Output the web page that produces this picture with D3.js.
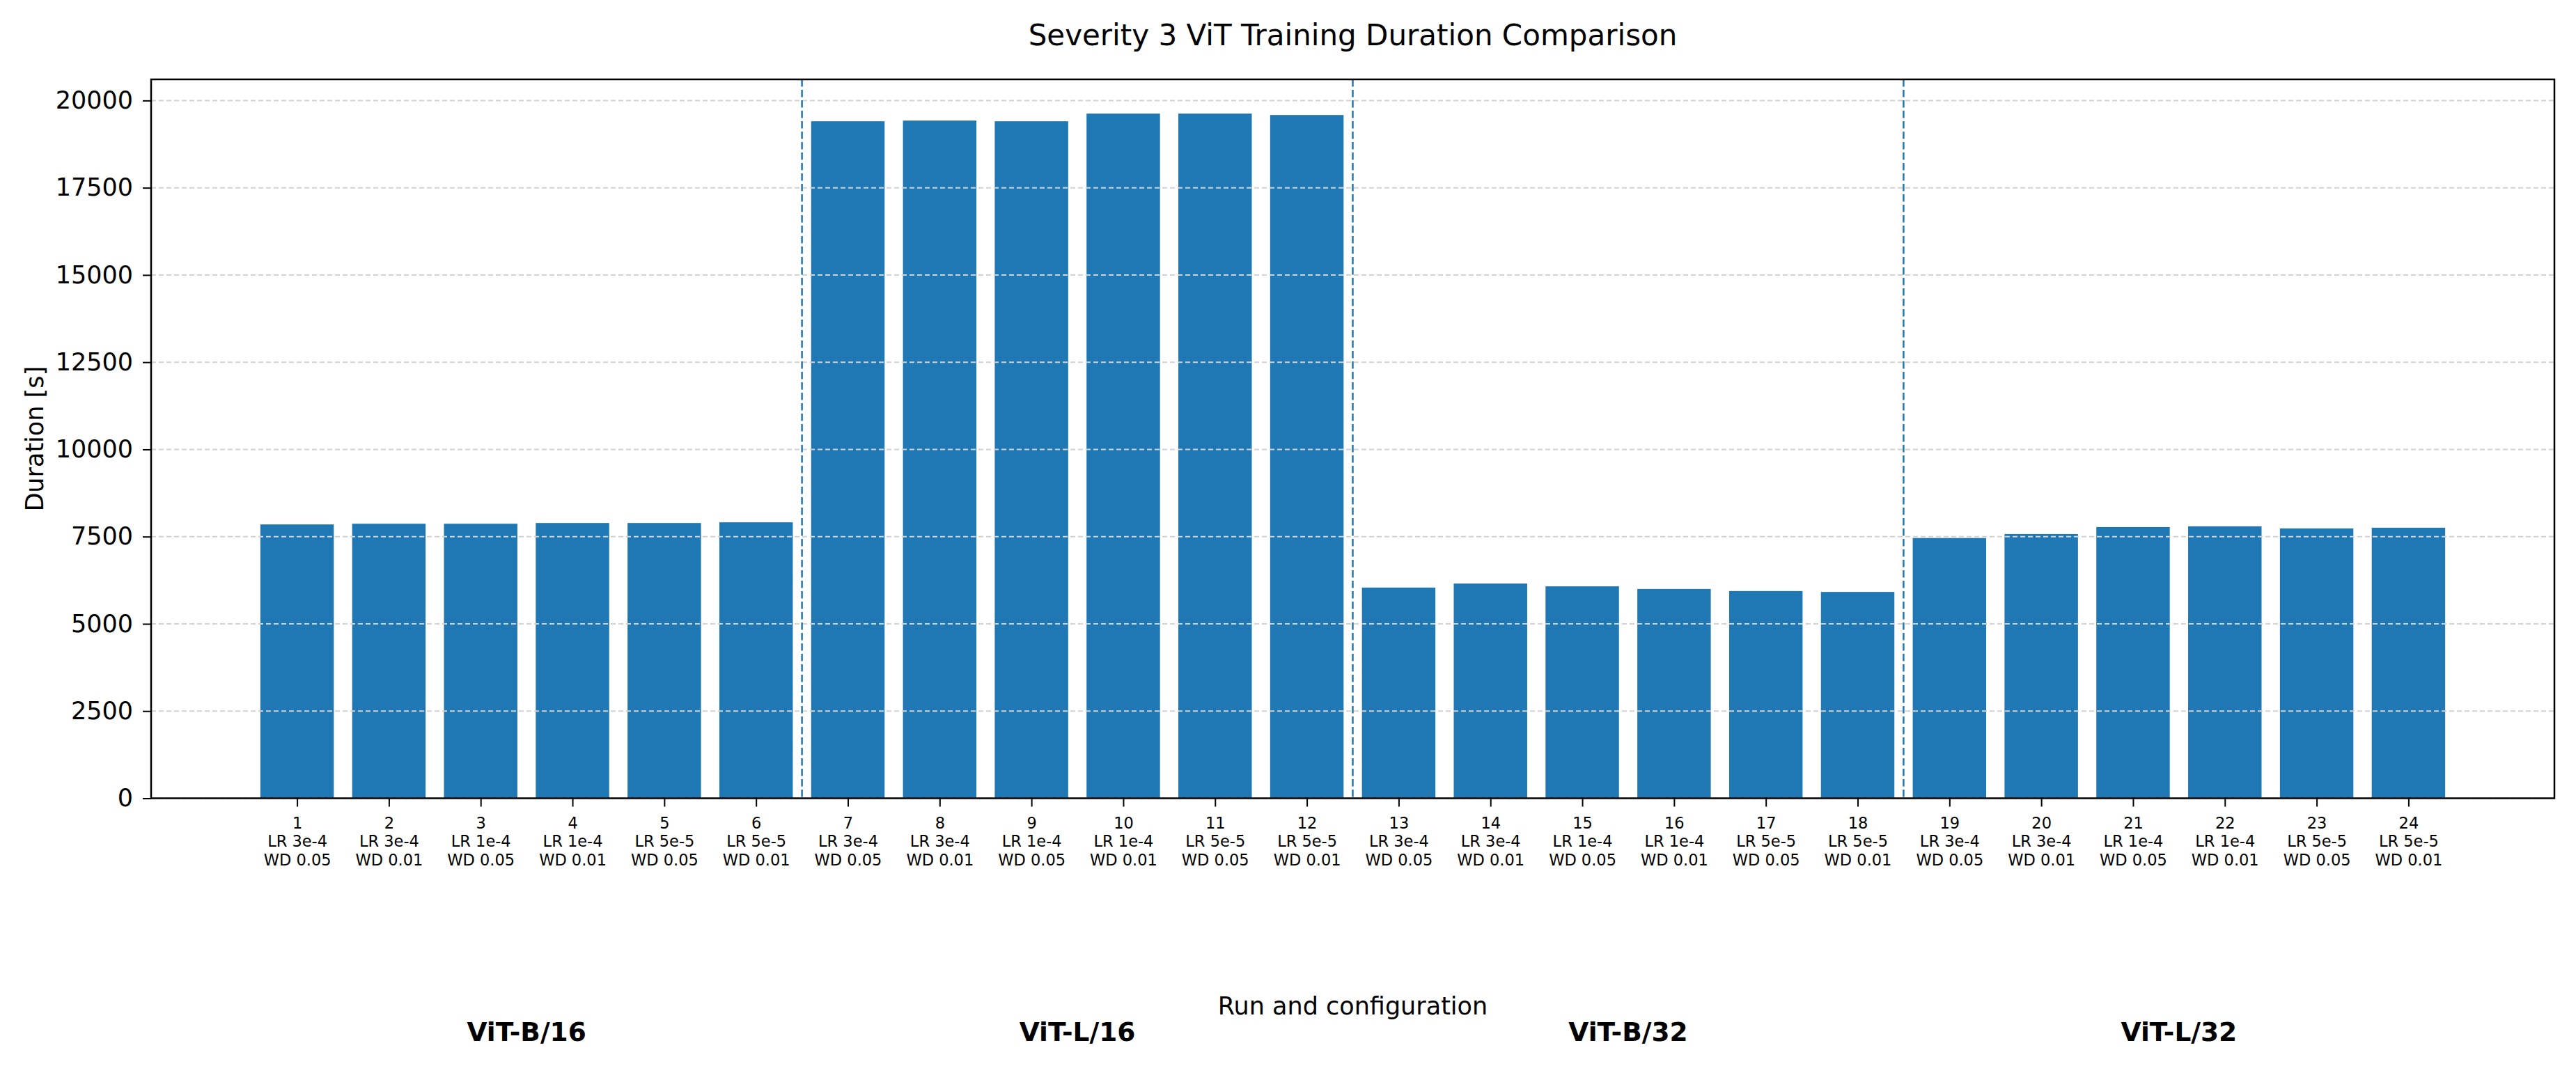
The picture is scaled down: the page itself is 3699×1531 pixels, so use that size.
<!DOCTYPE html>
<html>
<head>
<meta charset="utf-8">
<script src="https://cdn.jsdelivr.net/npm/d3@7"></script>
<style>
  body { margin: 0; background: #fff; }
  text { font-family: "DejaVu Sans", sans-serif; fill: #000; }
</style>
</head>
<body>
<svg id="chart"></svg>
<script>
// chart data
var models = ["ViT-B/16", "ViT-L/16", "ViT-B/32", "ViT-L/32"];
var lrs = ["LR 3e-4", "LR 3e-4", "LR 1e-4", "LR 1e-4", "LR 5e-5", "LR 5e-5"];
var wds = ["WD 0.05", "WD 0.01", "WD 0.05", "WD 0.01", "WD 0.05", "WD 0.01"];
var runs = [1, 2, 3, 4, 5, 6, 7, 8, 9, 10, 11, 12, 13, 14, 15, 16, 17, 18, 19, 20, 21, 22, 23, 24];
var durations = [7850, 7870, 7870, 7890, 7890, 7910,
                 19405, 19425, 19405, 19625, 19625, 19585,
                 6040, 6155, 6075, 6000, 5940, 5915,
                 7460, 7575, 7775, 7795, 7735, 7755];
var yTicks = [0, 2500, 5000, 7500, 10000, 12500, 15000, 17500, 20000];
var groupEdges = [6.5, 12.5, 18.5];

var W = 3699, H = 1531;
var margin = { top: 114, right: W - 3668, bottom: H - 1146.5, left: 217 };
var width = W - margin.left - margin.right,
    height = H - margin.top - margin.bottom;

var svg = d3.select("#chart").attr("width", W).attr("height", H);
var g = svg.append("g").attr("transform", "translate(" + margin.left + "," + margin.top + ")");

var x = d3.scaleLinear().domain([-0.59, 25.59]).range([0, width]);
var y = d3.scaleLinear().domain([0, d3.max(durations) * 1.05]).range([height, 0]);
var bw = x(0.8) - x(0);

// bars
g.selectAll("rect.bar")
  .data(runs).enter().append("rect")
  .attr("class", "bar")
  .attr("x", function(d) { return x(d) - bw / 2; })
  .attr("width", bw)
  .attr("y", function(d, i) { return y(durations[i]); })
  .attr("height", function(d, i) { return height - y(durations[i]); })
  .attr("fill", "#1f77b4");

// horizontal grid, above the bars
g.selectAll("line.grid")
  .data(yTicks).enter().append("line")
  .attr("x1", 0).attr("x2", width)
  .attr("y1", function(d) { return y(d); })
  .attr("y2", function(d) { return y(d); })
  .attr("stroke", "#d2d2d2")
  .attr("stroke-width", 2)
  .attr("stroke-dasharray", "7,4");

// group separators
g.selectAll("line.sep")
  .data(groupEdges).enter().append("line")
  .attr("x1", function(d) { return x(d); })
  .attr("x2", function(d) { return x(d); })
  .attr("y1", 0).attr("y2", height)
  .attr("stroke", "#1f77b4")
  .attr("stroke-width", 2.5)
  .attr("stroke-dasharray", "10.5,4.5");

// y axis
var yAxis = g.append("g")
  .call(d3.axisLeft(y).tickValues(yTicks).tickSize(12).tickPadding(14).tickFormat(d3.format("d")));
yAxis.select(".domain").remove();
yAxis.selectAll(".tick line").attr("stroke", "#000").attr("stroke-width", 2);
yAxis.selectAll(".tick text").style("font-size", "35px").attr("font-family", null);

// x axis
var xAxis = g.append("g")
  .attr("transform", "translate(0," + height + ")")
  .call(d3.axisBottom(x).tickValues(runs).tickSize(12).tickFormat(""));
xAxis.select(".domain").remove();
xAxis.selectAll(".tick line").attr("stroke", "#000").attr("stroke-width", 2);
xAxis.selectAll(".tick text").remove();
xAxis.selectAll(".tick").each(function(d, i) {
  var t = d3.select(this).append("text")
    .attr("text-anchor", "middle")
    .style("font-size", "22.5px");
  var lines = [String(d), lrs[i % 6], wds[i % 6]];
  lines.forEach(function(s, k) {
    t.append("tspan").attr("x", 0).attr("y", 43 + k * 26.5).text(s);
  });
});

// spines
g.append("rect")
  .attr("x", 0).attr("y", 0)
  .attr("width", width).attr("height", height)
  .attr("fill", "none")
  .attr("stroke", "#000")
  .attr("stroke-width", 2.5);

// group names
g.selectAll("text.model")
  .data(models).enter().append("text")
  .attr("x", function(d, i) { return x(i * 6 + 3.5); })
  .attr("y", 1495 - margin.top)
  .attr("text-anchor", "middle")
  .style("font-size", "37.5px")
  .style("font-weight", "bold")
  .text(function(d) { return d; });

// axis labels and title
svg.append("text")
  .attr("x", margin.left + width / 2).attr("y", 1457)
  .attr("text-anchor", "middle")
  .style("font-size", "35px")
  .text("Run and configuration");

svg.append("text")
  .attr("transform", "translate(62," + (margin.top + height / 2) + ") rotate(-90)")
  .attr("text-anchor", "middle")
  .style("font-size", "35px")
  .text("Duration [s]");

svg.append("text")
  .attr("x", margin.left + width / 2).attr("y", 65)
  .attr("text-anchor", "middle")
  .style("font-size", "42px")
  .text("Severity 3 ViT Training Duration Comparison");
</script>
</body>
</html>
